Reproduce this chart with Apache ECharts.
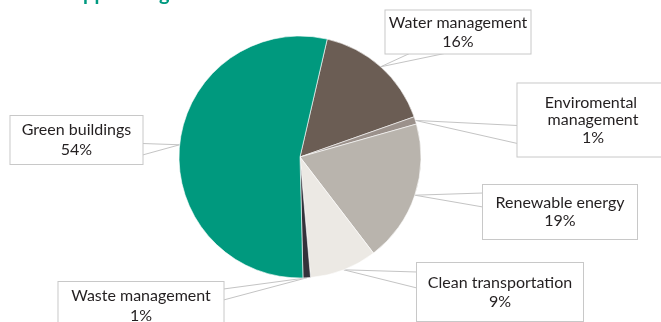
<!DOCTYPE html>
<html>
<head>
<meta charset="utf-8">
<script src="https://cdn.jsdelivr.net/npm/echarts@6/dist/echarts.min.js"></script>
<style>
  html, body { margin: 0; padding: 0; background: #ffffff; }
  #chart { width: 661px; height: 322px; }
</style>
</head>
<body>
<div id="chart"></div>
<script>
// Allocation by category (percent of total), clockwise from the top
var categories = ['Water management', 'Enviromental management', 'Renewable energy',
                  'Clean transportation', 'Waste management', 'Green buildings'];
var shares = [16, 1, 19, 9, 1, 54];
var sliceColors = ['#6b5d54', '#9b918b', '#b9b4ad', '#ece9e4', '#34323a', '#00997e'];

// Callout boxes: centre, outer size, text line height, and where the pointer meets the box
// side: which edge of the box the pointer leaves from; p1/p2: offsets along that edge
var callouts = [
  { cx: 458, cy: 32,  w: 145, h: 43, lh: 19,   side: 'bottom', p1: 24,  p2: 59 },
  { cx: 593, cy: 120, w: 151, h: 73, lh: 17.5, side: 'left',   p1: 42,  p2: 60 },
  { cx: 560, cy: 212, w: 154, h: 54, lh: 18.5, side: 'left',   p1: 8,   p2: 22 },
  { cx: 500, cy: 292, w: 166, h: 58, lh: 19,   side: 'left',   p1: 9,   p2: 25 },
  { cx: 141, cy: 306, w: 165, h: 48, lh: 20,   side: 'right',  p1: 7,   p2: 18 },
  { cx: 76.5, cy: 140, w: 132, h: 48, lh: 20,  side: 'right',  p1: 27.5, p2: 39 }
];

function anchorPoint(c, off) {
  var left = c.cx - c.w / 2, top = c.cy - c.h / 2;
  if (c.side === 'left') return [left, top + off];
  if (c.side === 'right') return [left + c.w, top + off];
  if (c.side === 'bottom') return [left + off, top + c.h];
  return [left + off, top];
}

var pieData = categories.map(function (name, i) {
  var c = callouts[i];
  var lines = name === 'Enviromental management' ? 3 : 2;
  var padV = (c.h - lines * c.lh) / 2;
  return {
    name: name,
    value: shares[i],
    itemStyle: { color: sliceColors[i] },
    label: {
      width: c.w - 4,
      lineHeight: c.lh,
      padding: [padV, 2, padV, 2]
    }
  };
});

var chart = echarts.init(document.getElementById('chart'), null, { renderer: 'canvas' });

chart.setOption({
  animation: false,
  backgroundColor: '#ffffff',
  title: {
    text: 'Supported green assets',
    left: 56,
    top: -21,
    textStyle: {
      fontFamily: 'Lato',
      fontWeight: 'bold',
      fontSize: 20,
      color: '#009a80'
    }
  },
  series: [{
    type: 'pie',
    center: [300, 157],
    radius: 121,
    startAngle: 77,
    clockwise: true,
    avoidLabelOverlap: false,
    percentPrecision: 0,
    itemStyle: { borderColor: '#ffffff', borderWidth: 0.6 },
    label: {
      show: true,
      position: 'outside',
      formatter: '{b}\n{c}%',
      fontFamily: 'Lato',
      fontSize: 16,
      color: '#231f20',
      align: 'center',
      overflow: 'break',
      backgroundColor: '#ffffff',
      borderColor: '#c8c8c8',
      borderWidth: 1
    },
    labelLine: {
      show: true,
      length: 10,
      length2: 10,
      smooth: false,
      lineStyle: { color: '#c4c4c4', width: 1 }
    },
    labelLayout: function (params) {
      var c = callouts[params.dataIndex];
      var out = { x: c.cx, y: c.cy, align: 'center', verticalAlign: 'middle' };
      var pts = params.labelLinePoints;
      if (pts && pts.length) {
        out.labelLinePoints = [anchorPoint(c, c.p1), pts[0], anchorPoint(c, c.p2)];
      }
      return out;
    },
    emphasis: { disabled: true },
    data: pieData
  }]
});
</script>
</body>
</html>
